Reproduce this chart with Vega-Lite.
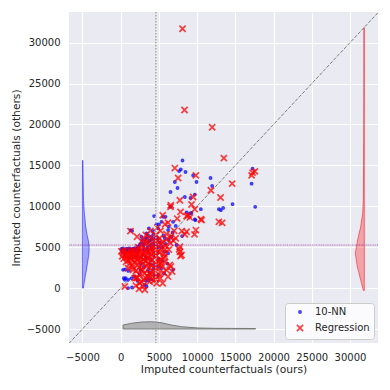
{
  "$schema": "https://vega.github.io/schema/vega-lite/v6.json",
  "width": 309,
  "height": 331,
  "autosize": "none",
  "padding": {"left": 69, "top": 12, "right": 12, "bottom": 47},
  "background": "white",
  "datasets": {
    "pts": [
      {"m":"10-NN","x":8090,"y":15600},{"m":"10-NN","x":7870,"y":14510},{"m":"10-NN","x":7650,"y":14310},{"m":"10-NN","x":8480,"y":14190},{"m":"10-NN","x":9480,"y":13780},{"m":"10-NN","x":7085,"y":12970},{"m":"10-NN","x":9925,"y":12970},{"m":"10-NN","x":11760,"y":13460},{"m":"10-NN","x":7440,"y":12240},{"m":"10-NN","x":11970,"y":12480},{"m":"10-NN","x":6520,"y":11750},{"m":"10-NN","x":8395,"y":11140},{"m":"10-NN","x":9140,"y":11020},{"m":"10-NN","x":9700,"y":11430},{"m":"10-NN","x":17260,"y":14600},{"m":"10-NN","x":17130,"y":12770},{"m":"10-NN","x":14640,"y":10260},{"m":"10-NN","x":17600,"y":9930},{"m":"10-NN","x":12850,"y":9650},{"m":"10-NN","x":13110,"y":9530},{"m":"10-NN","x":13410,"y":9800},{"m":"10-NN","x":10490,"y":9650},{"m":"10-NN","x":4375,"y":8800},{"m":"10-NN","x":5550,"y":8710},{"m":"10-NN","x":5870,"y":8710},{"m":"10-NN","x":8620,"y":9250},{"m":"10-NN","x":9050,"y":9120},{"m":"10-NN","x":9270,"y":9200},{"m":"10-NN","x":9700,"y":8390},{"m":"10-NN","x":9790,"y":8310},{"m":"10-NN","x":6520,"y":9930},{"m":"10-NN","x":8040,"y":6360},{"m":"10-NN","x":1280,"y":7090},{"m":"10-NN","x":970,"y":0},{"m":"10-NN","x":1490,"y":70},{"m":"10-NN","x":410,"y":1220},{"m":"10-NN","x":670,"y":1220},{"m":"10-NN","x":3290,"y":925},{"m":"10-NN","x":3640,"y":925},{"m":"10-NN","x":4820,"y":1500},
      {"m":"10-NN","x":4690,"y":7790},{"m":"10-NN","x":5340,"y":8100},{"m":"10-NN","x":6860,"y":8100},{"m":"10-NN","x":4900,"y":7300},{"m":"10-NN","x":6210,"y":7090},{"m":"10-NN","x":3380,"y":6690},{"m":"10-NN","x":4030,"y":6280},{"m":"10-NN","x":5780,"y":6080},{"m":"10-NN","x":6650,"y":6280},{"m":"10-NN","x":4820,"y":5880},{"m":"10-NN","x":7310,"y":5270},{"m":"10-NN","x":3590,"y":5670},{"m":"10-NN","x":4240,"y":5470},{"m":"10-NN","x":1850,"y":4870},{"m":"10-NN","x":2280,"y":5060},{"m":"10-NN","x":3160,"y":4660},{"m":"10-NN","x":3590,"y":4660},{"m":"10-NN","x":5780,"y":4450},{"m":"10-NN","x":6210,"y":4260},{"m":"10-NN","x":3380,"y":3650},{"m":"10-NN","x":4030,"y":3440},{"m":"10-NN","x":4465,"y":2830},{"m":"10-NN","x":4900,"y":2630},{"m":"10-NN","x":3590,"y":2230},{"m":"10-NN","x":6860,"y":2230},{"m":"10-NN","x":4465,"y":1620},{"m":"10-NN","x":4900,"y":1620},{"m":"10-NN","x":315,"y":2230},{"m":"10-NN","x":540,"y":1010},{"m":"10-NN","x":970,"y":1010},{"m":"10-NN","x":3590,"y":1220},{"m":"10-NN","x":4030,"y":1100},{"m":"10-NN","x":3160,"y":400},{"m":"10-NN","x":3380,"y":200},
      {"m":"10-NN","x":100,"y":4800},{"m":"10-NN","x":300,"y":4850},{"m":"10-NN","x":500,"y":4700},{"m":"10-NN","x":700,"y":4800},{"m":"10-NN","x":900,"y":4750},{"m":"10-NN","x":1100,"y":4850},{"m":"10-NN","x":1300,"y":4700},{"m":"10-NN","x":1500,"y":4800},{"m":"10-NN","x":1700,"y":4750},{"m":"10-NN","x":1900,"y":4650},{"m":"10-NN","x":2100,"y":4800},{"m":"10-NN","x":2400,"y":4700},{"m":"10-NN","x":200,"y":4400},{"m":"10-NN","x":400,"y":4300},{"m":"10-NN","x":600,"y":4450},{"m":"10-NN","x":800,"y":4350},{"m":"10-NN","x":1000,"y":4500},{"m":"10-NN","x":1200,"y":4400},{"m":"10-NN","x":1400,"y":4450},{"m":"10-NN","x":1600,"y":4350},{"m":"10-NN","x":2000,"y":4450},{"m":"10-NN","x":2300,"y":4550},
      {"m":"10-NN","x":2700,"y":5500},{"m":"10-NN","x":3000,"y":5200},{"m":"10-NN","x":3200,"y":6000},{"m":"10-NN","x":3500,"y":5000},{"m":"10-NN","x":3800,"y":5800},{"m":"10-NN","x":4100,"y":4900},{"m":"10-NN","x":4300,"y":6600},{"m":"10-NN","x":4600,"y":5300},{"m":"10-NN","x":4800,"y":4300},{"m":"10-NN","x":5100,"y":5600},{"m":"10-NN","x":5400,"y":5000},{"m":"10-NN","x":5600,"y":6400},{"m":"10-NN","x":5900,"y":5400},{"m":"10-NN","x":6300,"y":5900},{"m":"10-NN","x":2900,"y":4100},{"m":"10-NN","x":3300,"y":3800},{"m":"10-NN","x":3700,"y":4300},{"m":"10-NN","x":4400,"y":3900},{"m":"10-NN","x":5000,"y":3600},{"m":"10-NN","x":5500,"y":3300},{"m":"10-NN","x":2600,"y":3000},{"m":"10-NN","x":3000,"y":2600},{"m":"10-NN","x":3900,"y":2900},{"m":"10-NN","x":5300,"y":2400},{"m":"10-NN","x":6100,"y":3000},{"m":"10-NN","x":2500,"y":1700},{"m":"10-NN","x":1800,"y":1400},{"m":"10-NN","x":2200,"y":900},{"m":"10-NN","x":5700,"y":1800},{"m":"10-NN","x":6300,"y":7500},{"m":"10-NN","x":5000,"y":7800},{"m":"10-NN","x":3700,"y":7300},{"m":"10-NN","x":7200,"y":7600},{"m":"10-NN","x":6800,"y":6800},
      {"m":"10-NN","x":2500,"y":5300},{"m":"10-NN","x":2800,"y":5900},{"m":"10-NN","x":3100,"y":5500},{"m":"10-NN","x":3400,"y":6100},{"m":"10-NN","x":3600,"y":6400},{"m":"10-NN","x":4000,"y":5900},{"m":"10-NN","x":4400,"y":6000},{"m":"10-NN","x":4700,"y":6200},{"m":"10-NN","x":4200,"y":7000},{"m":"10-NN","x":2700,"y":6300},{"m":"10-NN","x":3000,"y":4700},{"m":"10-NN","x":3900,"y":5200},{"m":"10-NN","x":4900,"y":5000},{"m":"10-NN","x":2200,"y":4100},{"m":"10-NN","x":1500,"y":3750},{"m":"10-NN","x":1900,"y":3800},{"m":"10-NN","x":2300,"y":3700},{"m":"10-NN","x":2700,"y":3750},{"m":"10-NN","x":600,"y":2300},{"m":"10-NN","x":1000,"y":2100},{"m":"10-NN","x":2600,"y":2200},{"m":"10-NN","x":4300,"y":2400},{"m":"10-NN","x":3800,"y":1900},{"m":"10-NN","x":1400,"y":1200},{"m":"10-NN","x":1500,"y":7000},
      {"m":"Regression","x":8090,"y":31700},{"m":"Regression","x":8355,"y":21775},{"m":"Regression","x":11970,"y":19660},{"m":"Regression","x":13500,"y":15890},{"m":"Regression","x":7085,"y":14670},{"m":"Regression","x":9835,"y":13780},{"m":"Regression","x":7520,"y":13460},{"m":"Regression","x":17260,"y":14110},{"m":"Regression","x":17560,"y":14270},{"m":"Regression","x":17130,"y":13780},{"m":"Regression","x":14590,"y":12770},{"m":"Regression","x":11800,"y":11960},{"m":"Regression","x":13070,"y":11070},{"m":"Regression","x":7740,"y":10740},{"m":"Regression","x":9480,"y":11140},{"m":"Regression","x":9270,"y":10220},{"m":"Regression","x":6520,"y":9930},{"m":"Regression","x":9700,"y":9650},{"m":"Regression","x":7830,"y":9320},{"m":"Regression","x":8830,"y":8920},{"m":"Regression","x":8620,"y":8800},{"m":"Regression","x":9050,"y":8640},{"m":"Regression","x":10490,"y":8430},{"m":"Regression","x":12850,"y":8100},{"m":"Regression","x":13280,"y":7980},{"m":"Regression","x":9835,"y":7090},{"m":"Regression","x":9660,"y":6570},{"m":"Regression","x":10580,"y":8310},{"m":"Regression","x":8620,"y":6890},{"m":"Regression","x":8395,"y":6570},{"m":"Regression","x":8000,"y":6970},{"m":"Regression","x":7740,"y":5060},{"m":"Regression","x":7650,"y":4740},{"m":"Regression","x":7830,"y":3930},{"m":"Regression","x":6430,"y":2830},{"m":"Regression","x":6730,"y":2020},{"m":"Regression","x":6560,"y":2630},{"m":"Regression","x":5120,"y":3440},{"m":"Regression","x":5780,"y":3840},{"m":"Regression","x":2150,"y":6280},{"m":"Regression","x":1280,"y":6970},{"m":"Regression","x":2930,"y":195},{"m":"Regression","x":3160,"y":-210},{"m":"Regression","x":2070,"y":1220},{"m":"Regression","x":6560,"y":10130},{"m":"Regression","x":7740,"y":4450},{"m":"Regression","x":7960,"y":4050},{"m":"Regression","x":970,"y":2430},{"m":"Regression","x":1620,"y":2230},{"m":"Regression","x":540,"y":200},{"m":"Regression","x":1850,"y":1220},{"m":"Regression","x":2500,"y":610},
      {"m":"Regression","x":100,"y":4500},{"m":"Regression","x":300,"y":4300},{"m":"Regression","x":500,"y":4600},{"m":"Regression","x":700,"y":4200},{"m":"Regression","x":900,"y":4450},{"m":"Regression","x":1100,"y":4100},{"m":"Regression","x":1300,"y":4550},{"m":"Regression","x":1500,"y":4300},{"m":"Regression","x":1700,"y":3900},{"m":"Regression","x":1900,"y":4400},{"m":"Regression","x":2100,"y":4000},{"m":"Regression","x":2300,"y":4600},{"m":"Regression","x":2500,"y":3700},{"m":"Regression","x":2800,"y":4200},{"m":"Regression","x":3000,"y":3500},{"m":"Regression","x":200,"y":3900},{"m":"Regression","x":400,"y":3600},{"m":"Regression","x":600,"y":4000},{"m":"Regression","x":800,"y":3700},{"m":"Regression","x":1000,"y":3400},{"m":"Regression","x":1200,"y":3800},{"m":"Regression","x":1400,"y":3500},{"m":"Regression","x":1600,"y":4650},{"m":"Regression","x":2000,"y":3600},{"m":"Regression","x":2600,"y":3300},
      {"m":"Regression","x":2800,"y":5200},{"m":"Regression","x":3000,"y":6000},{"m":"Regression","x":3200,"y":4800},{"m":"Regression","x":3400,"y":5500},{"m":"Regression","x":3600,"y":4400},{"m":"Regression","x":3800,"y":6200},{"m":"Regression","x":4000,"y":5000},{"m":"Regression","x":4200,"y":4600},{"m":"Regression","x":4400,"y":5800},{"m":"Regression","x":4500,"y":3800},{"m":"Regression","x":4700,"y":5300},{"m":"Regression","x":4900,"y":4500},{"m":"Regression","x":5100,"y":6100},{"m":"Regression","x":5300,"y":4900},{"m":"Regression","x":5500,"y":5600},{"m":"Regression","x":5700,"y":4200},{"m":"Regression","x":5900,"y":5200},{"m":"Regression","x":6100,"y":6000},{"m":"Regression","x":6300,"y":4700},{"m":"Regression","x":6500,"y":5500},{"m":"Regression","x":3100,"y":4100},{"m":"Regression","x":3500,"y":3700},{"m":"Regression","x":4100,"y":3500},{"m":"Regression","x":4600,"y":6500},{"m":"Regression","x":5200,"y":7000},{"m":"Regression","x":5600,"y":3700},{"m":"Regression","x":6000,"y":6600},{"m":"Regression","x":3300,"y":6500},{"m":"Regression","x":2900,"y":5600},{"m":"Regression","x":6600,"y":6300},{"m":"Regression","x":6900,"y":5800},{"m":"Regression","x":7200,"y":6100},{"m":"Regression","x":7000,"y":7000},{"m":"Regression","x":4800,"y":7400},{"m":"Regression","x":5800,"y":7800},{"m":"Regression","x":3900,"y":7000},{"m":"Regression","x":6200,"y":8000},{"m":"Regression","x":7400,"y":8500},{"m":"Regression","x":5500,"y":8900},
      {"m":"Regression","x":3600,"y":3000},{"m":"Regression","x":3800,"y":2500},{"m":"Regression","x":4000,"y":2800},{"m":"Regression","x":4200,"y":2000},{"m":"Regression","x":4400,"y":3100},{"m":"Regression","x":4600,"y":1500},{"m":"Regression","x":4800,"y":2300},{"m":"Regression","x":5000,"y":2900},{"m":"Regression","x":5200,"y":1200},{"m":"Regression","x":5400,"y":2600},{"m":"Regression","x":5600,"y":1900},{"m":"Regression","x":5800,"y":3200},{"m":"Regression","x":6000,"y":2200},{"m":"Regression","x":6200,"y":1400},{"m":"Regression","x":3700,"y":1800},{"m":"Regression","x":4300,"y":900},{"m":"Regression","x":4700,"y":600},{"m":"Regression","x":5500,"y":600},{"m":"Regression","x":3900,"y":1300},{"m":"Regression","x":5000,"y":1700},{"m":"Regression","x":3400,"y":2700},{"m":"Regression","x":2900,"y":2200},{"m":"Regression","x":2500,"y":1600},{"m":"Regression","x":2300,"y":2900},
      {"m":"Regression","x":1500,"y":2800},{"m":"Regression","x":1800,"y":3200},{"m":"Regression","x":2200,"y":3400},{"m":"Regression","x":2700,"y":3800},{"m":"Regression","x":3200,"y":3300},{"m":"Regression","x":3700,"y":3500},{"m":"Regression","x":4300,"y":4300},{"m":"Regression","x":4700,"y":4000},{"m":"Regression","x":5100,"y":4400},{"m":"Regression","x":2400,"y":2500},{"m":"Regression","x":2700,"y":2300},{"m":"Regression","x":3100,"y":1800},{"m":"Regression","x":3500,"y":1500},{"m":"Regression","x":4000,"y":1700},{"m":"Regression","x":4500,"y":2500},{"m":"Regression","x":4900,"y":3300},{"m":"Regression","x":5300,"y":3000},{"m":"Regression","x":3300,"y":1200},{"m":"Regression","x":3800,"y":800},{"m":"Regression","x":4600,"y":1100},{"m":"Regression","x":2900,"y":3000},{"m":"Regression","x":3500,"y":4000},{"m":"Regression","x":4000,"y":4100},{"m":"Regression","x":4500,"y":4800},{"m":"Regression","x":1200,"y":3000},{"m":"Regression","x":1600,"y":2600},{"m":"Regression","x":2000,"y":2100},{"m":"Regression","x":700,"y":3200},{"m":"Regression","x":1400,"y":4000},{"m":"Regression","x":1900,"y":3800},{"m":"Regression","x":2400,"y":4300},{"m":"Regression","x":3300,"y":4500},{"m":"Regression","x":3900,"y":4700},{"m":"Regression","x":4300,"y":5200},{"m":"Regression","x":3700,"y":5600},{"m":"Regression","x":4800,"y":5800},{"m":"Regression","x":5300,"y":5400},{"m":"Regression","x":5800,"y":4700},{"m":"Regression","x":2300,"y":5000},{"m":"Regression","x":2600,"y":4700},{"m":"Regression","x":2000,"y":300},{"m":"Regression","x":2400,"y":-100},{"m":"Regression","x":2700,"y":800},{"m":"Regression","x":3000,"y":1000},{"m":"Regression","x":2200,"y":1300}
    ],
    "kde_g": [
      {"x":315,"y":-4513,"y2":-5000},{"x":1410,"y":-4307,"y2":-5000},{"x":2720,"y":-4148,"y2":-5000},{"x":4030,"y":-4112,"y2":-5000},{"x":5340,"y":-4234,"y2":-5000},{"x":6650,"y":-4513,"y2":-5000},{"x":7960,"y":-4720,"y2":-5000},{"x":10140,"y":-4878,"y2":-5000},{"x":12320,"y":-4915,"y2":-5000},{"x":14510,"y":-4927,"y2":-5000},{"x":17650,"y":-4940,"y2":-5000}
    ],
    "kde_b": [
      {"y":0,"x":-5000,"x2":-4880},{"y":610,"x":-5000,"x2":-4780},{"y":1400,"x":-5000,"x2":-4640},{"y":2230,"x":-5000,"x2":-4480},{"y":3000,"x":-5000,"x2":-4350},{"y":3840,"x":-5000,"x2":-4210},{"y":4400,"x":-5000,"x2":-4140},{"y":5060,"x":-5000,"x2":-4130},{"y":5800,"x":-5000,"x2":-4230},{"y":6700,"x":-5000,"x2":-4440},{"y":7700,"x":-5000,"x2":-4600},{"y":8700,"x":-5000,"x2":-4700},{"y":9500,"x":-5000,"x2":-4780},{"y":10700,"x":-5000,"x2":-4860},{"y":12000,"x":-5000,"x2":-4890},{"y":14000,"x":-5000,"x2":-4920},{"y":15600,"x":-5000,"x2":-4940}
    ],
    "kde_r": [
      {"y":-290,"x":31750,"x2":31880},{"y":1010,"x":31400,"x2":31880},{"y":2630,"x":30960,"x2":31880},{"y":4260,"x":30700,"x2":31880},{"y":5880,"x":31000,"x2":31880},{"y":7490,"x":31400,"x2":31880},{"y":9120,"x":31660,"x2":31880},{"y":10740,"x":31750,"x2":31880},{"y":12000,"x":31760,"x2":31880},{"y":15000,"x":31780,"x2":31880},{"y":20000,"x":31800,"x2":31880},{"y":25000,"x":31810,"x2":31880},{"y":31830,"x":31815,"x2":31880}
    ],
    "diag": [{"x":-6760,"y":-6760},{"x":33670,"y":33670}],
    "vline": [{"x":4600}],
    "hline": [{"m":"10-NN","y":5270},{"m":"Regression","y":5250}]
  },
  "layer": [
    {
      "data": {"name": "kde_g"},
      "mark": {"type": "area", "fill": "#8c8c8c", "fillOpacity": 0.6, "stroke": "#7a7a7a", "strokeWidth": 1},
      "encoding": {
        "x": {"field": "x", "type": "quantitative", "scale": {"domain": [-6760, 33670], "nice": false, "zero": false}, "axis": {"title": "Imputed counterfactuals (ours)", "values": [-5000,0,5000,10000,15000,20000,25000,30000], "format": "d"}},
        "y": {"field": "y", "type": "quantitative", "scale": {"domain": [-6710, 33750], "nice": false, "zero": false}, "axis": {"title": "Imputed counterfactuals (others)", "values": [-5000,0,5000,10000,15000,20000,25000,30000], "format": "d"}},
        "y2": {"field": "y2"}
      }
    },
    {
      "data": {"name": "kde_b"},
      "mark": {"type": "area", "orient": "horizontal", "fill": "blue", "fillOpacity": 0.3, "stroke": "blue", "strokeOpacity": 0.5, "strokeWidth": 1},
      "encoding": {
        "y": {"field": "y", "type": "quantitative", "scale": {"domain": [-6710, 33750], "nice": false, "zero": false}, "axis": {"title": "Imputed counterfactuals (others)", "values": [-5000,0,5000,10000,15000,20000,25000,30000], "format": "d"}},
        "x": {"field": "x", "type": "quantitative", "scale": {"domain": [-6760, 33670], "nice": false, "zero": false}, "axis": {"title": "Imputed counterfactuals (ours)", "values": [-5000,0,5000,10000,15000,20000,25000,30000], "format": "d"}},
        "x2": {"field": "x2"}
      }
    },
    {
      "data": {"name": "kde_r"},
      "mark": {"type": "area", "orient": "horizontal", "fill": "red", "fillOpacity": 0.3, "stroke": "red", "strokeOpacity": 0.5, "strokeWidth": 1},
      "encoding": {
        "y": {"field": "y", "type": "quantitative", "scale": {"domain": [-6710, 33750], "nice": false, "zero": false}, "axis": {"title": "Imputed counterfactuals (others)", "values": [-5000,0,5000,10000,15000,20000,25000,30000], "format": "d"}},
        "x": {"field": "x", "type": "quantitative", "scale": {"domain": [-6760, 33670], "nice": false, "zero": false}, "axis": {"title": "Imputed counterfactuals (ours)", "values": [-5000,0,5000,10000,15000,20000,25000,30000], "format": "d"}},
        "x2": {"field": "x2"}
      }
    },
    {
      "data": {"name": "diag"},
      "mark": {"type": "line", "color": "#707070", "strokeWidth": 0.9, "strokeDash": [3.5, 1.6], "clip": true},
      "encoding": {
        "x": {"field": "x", "type": "quantitative", "scale": {"domain": [-6760, 33670], "nice": false, "zero": false}, "axis": {"title": "Imputed counterfactuals (ours)", "values": [-5000,0,5000,10000,15000,20000,25000,30000], "format": "d"}},
        "y": {"field": "y", "type": "quantitative", "scale": {"domain": [-6710, 33750], "nice": false, "zero": false}, "axis": {"title": "Imputed counterfactuals (others)", "values": [-5000,0,5000,10000,15000,20000,25000,30000], "format": "d"}}
      }
    },
    {
      "data": {"name": "pts"},
      "mark": {"type": "point", "filled": false, "strokeWidth": 1.7, "opacity": 0.75},
      "encoding": {
        "x": {"field": "x", "type": "quantitative", "scale": {"domain": [-6760, 33670], "nice": false, "zero": false}, "axis": {"title": "Imputed counterfactuals (ours)", "values": [-5000,0,5000,10000,15000,20000,25000,30000], "format": "d"}},
        "y": {"field": "y", "type": "quantitative", "scale": {"domain": [-6710, 33750], "nice": false, "zero": false}, "axis": {"title": "Imputed counterfactuals (others)", "values": [-5000,0,5000,10000,15000,20000,25000,30000], "format": "d"}},
        "color": {"field": "m", "type": "nominal", "scale": {"domain": ["10-NN", "Regression"], "range": ["blue", "red"]},
          "legend": {"title": null, "orient": "bottom-right", "offset": 4, "padding": 4, "rowPadding": 4, "symbolOffset": 6, "labelOffset": 10, "symbolStrokeWidth": 1.7, "symbolSize": 121, "fillColor": "rgba(255,255,255,0.8)", "strokeColor": "#cccccc", "cornerRadius": 3, "labelFont": "DejaVu Sans", "labelFontSize": 10, "labelColor": "#262626",
            "encode": {"symbols": {"update": {"size": {"signal": "datum.value === '10-NN' ? 4.5 : 40"}, "opacity": {"value": 0.8}}}}}},
        "shape": {"field": "m", "type": "nominal", "scale": {"domain": ["10-NN", "Regression"], "range": ["circle", "M-1,-1L1,1M-1,1L1,-1"]}},
        "size": {"field": "m", "type": "nominal", "scale": {"domain": ["10-NN", "Regression"], "range": [4.5, 38]}, "legend": null}
      }
    },
    {
      "data": {"name": "vline"},
      "mark": {"type": "rule", "color": "#a8a8a8", "strokeWidth": 1.5, "strokeDash": [1.5, 1.5]},
      "encoding": {
        "x": {"field": "x", "type": "quantitative", "scale": {"domain": [-6760, 33670], "nice": false, "zero": false}, "axis": {"title": "Imputed counterfactuals (ours)", "values": [-5000,0,5000,10000,15000,20000,25000,30000], "format": "d"}}
      }
    },
    {
      "data": {"name": "hline"},
      "transform": [{"filter": "datum.m === '10-NN'"}],
      "mark": {"type": "rule", "color": "blue", "opacity": 0.5, "strokeWidth": 1.2, "strokeDash": [1.2, 2.4]},
      "encoding": {
        "y": {"field": "y", "type": "quantitative", "scale": {"domain": [-6710, 33750], "nice": false, "zero": false}, "axis": {"title": "Imputed counterfactuals (others)", "values": [-5000,0,5000,10000,15000,20000,25000,30000], "format": "d"}}
      }
    },
    {
      "data": {"name": "hline"},
      "transform": [{"filter": "datum.m === 'Regression'"}],
      "mark": {"type": "rule", "color": "red", "opacity": 0.4, "strokeWidth": 1.2, "strokeDash": [1.2, 2.4], "strokeDashOffset": 1.8},
      "encoding": {
        "y": {"field": "y", "type": "quantitative", "scale": {"domain": [-6710, 33750], "nice": false, "zero": false}, "axis": {"title": "Imputed counterfactuals (others)", "values": [-5000,0,5000,10000,15000,20000,25000,30000], "format": "d"}}
      }
    }
  ],
  "config": {
    "view": {"fill": "#EAEAF2", "stroke": null},
    "font": "DejaVu Sans",
    "axis": {
      "grid": true, "gridColor": "white", "gridWidth": 1.1, "domain": false, "ticks": false, "tickSize": 0,
      "labelFont": "DejaVu Sans", "labelFontSize": 10, "labelColor": "#262626", "labelPadding": 9,
      "titleFont": "DejaVu Sans", "titleFontSize": 10.7, "titleFontWeight": "normal", "titleColor": "#262626"
    },
    "axisX": {"titlePadding": 2.5, "labelFlush": false},
    "axisY": {"titlePadding": 4.5, "labelFlush": false}
  }
}
